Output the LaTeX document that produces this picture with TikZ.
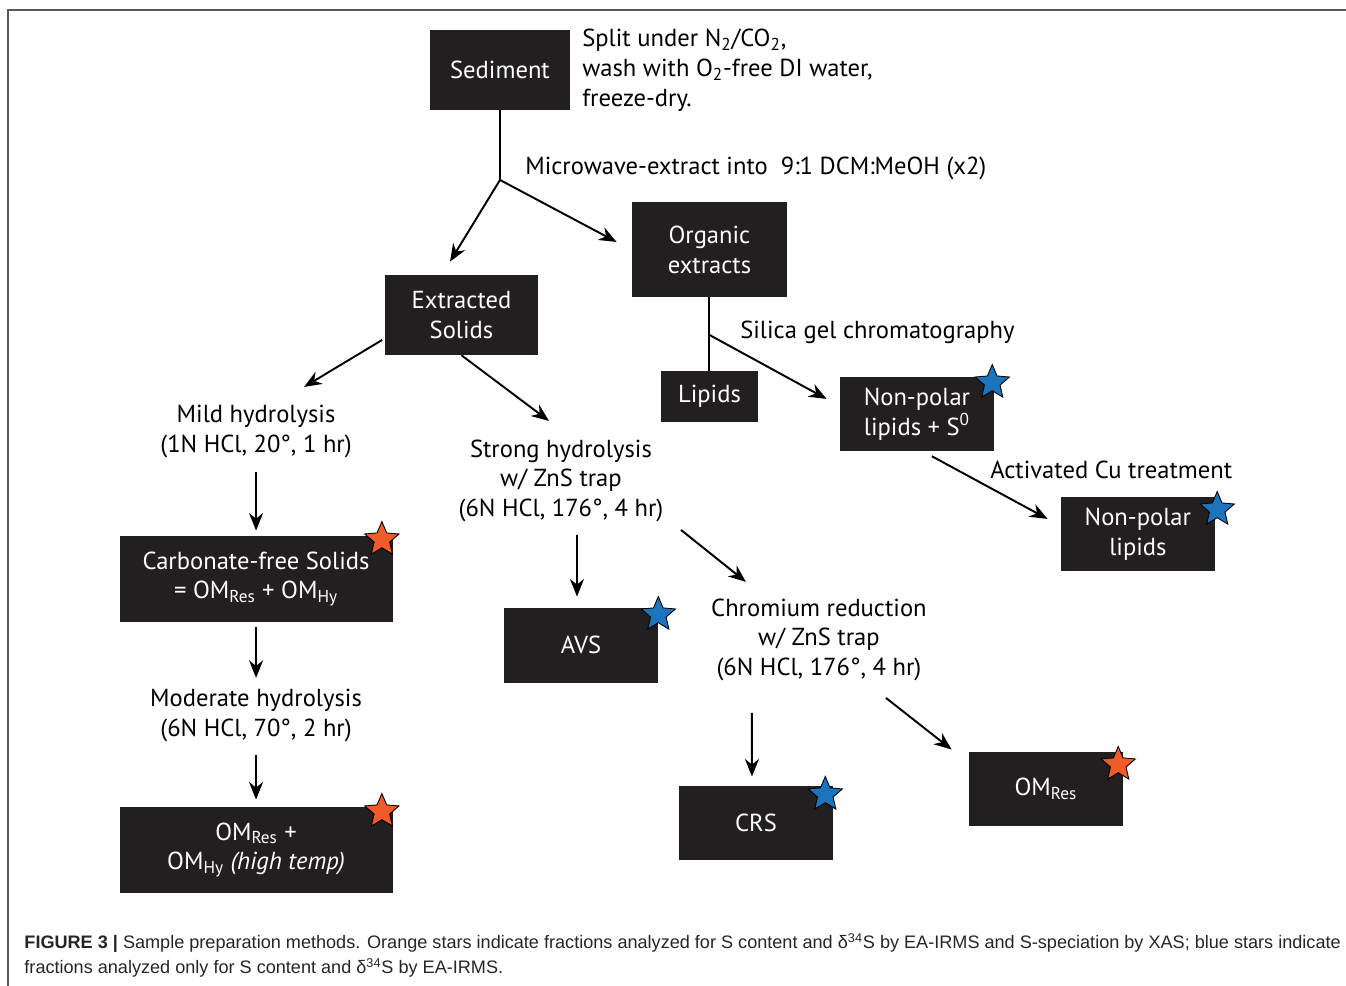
\documentclass[tikz,border=0pt]{standalone}
\usepackage{fontspec}
\setmainfont{PT Sans}
\newfontfamily\capfont{Liberation Sans}
\usepackage{xcolor}
\usetikzlibrary{arrows.meta, positioning, shapes.geometric}
\definecolor{boxblack}{HTML}{231F20}
\definecolor{starorange}{HTML}{F15A29}
\definecolor{starblue}{HTML}{1C75BC}

\begin{document}
\begin{tikzpicture}[
    x=0.02cm, y=-0.02cm,
    on grid,
    box/.style={rectangle, fill=boxblack, text=white, minimum width=3.08cm, minimum height=1.5cm, align=center, inner sep=1pt, font=\fontsize{14}{17}\selectfont},
    lbl/.style={align=center, inner sep=0pt, font=\fontsize{14}{17}\selectfont},
    note/.style={align=left, inner sep=0pt, anchor=west, font=\fontsize{14}{17}\selectfont},
    arr/.style={-{Stealth[length=10pt, width=8pt]}, line width=1.1pt},
    stem/.style={line width=1.1pt},
    ostar/.style={star, star points=5, star point ratio=2.2, minimum size=0.72cm, inner sep=0pt, draw=black, line width=0.5pt, fill=starorange},
    bstar/.style={ostar, fill=starblue}
]
    \useasboundingbox (0,0) rectangle (1346,986);
    \draw[black!65, line width=0.9pt] (8,986) -- (8,10) -- (1346,10);

    \node[box, minimum width=2.8cm, minimum height=1.6cm] (sed) at (500,70) {Sediment};
    \node[right=1.64cm of sed, note] (split) {Split under N\textsubscript{2}/CO\textsubscript{2},\\wash with O\textsubscript{2}-free DI water,\\freeze-dry.};
    \coordinate[below=2.2cm of sed] (j1);
    \node[below right=1.96cm and 0.5cm of sed, note] (micro) {Microwave-extract into\ \ 9:1 DCM:MeOH (x2)};
    \node[box, minimum width=3.1cm, minimum height=1.9cm, below right=3.59cm and 4.19cm of sed] (org) {Organic\\extracts};
    \node[box, minimum height=1.6cm, below left=4.9cm and 0.77cm of sed] (es) {Extracted\\Solids};

    \node[box, minimum width=1.94cm, minimum height=1.02cm, below=2.94cm of org] (lip) {Lipids};
    \coordinate[below=1.71cm of org] (j2);
    \node[below right=1.65cm and 0.61cm of org, note] (silica) {Silica gel chromatography};
    \node[box, minimum height=1.48cm, below right=3.29cm and 4.15cm of org] (nps) {Non-polar\\lipids + S\textsuperscript{0}};
    \node[below right=1.12cm and 1.46cm of nps, note] (act) {Activated Cu treatment};
    \node[box, minimum height=1.48cm, below right=2.4cm and 4.42cm of nps] (np) {Non-polar\\lipids};

    \node[lbl, below left=2.34cm and 4.11cm of es] (mild) {Mild hydrolysis\\(1N HCl, 20°, 1 hr)};
    \node[box, minimum width=5.46cm, minimum height=1.72cm, below=2.94cm of mild] (cfs) {Carbonate-free Solids\\= OM\textsubscript{Res} + OM\textsubscript{Hy}};
    \node[lbl, below=2.74cm of cfs] (mod) {Moderate hydrolysis\\(6N HCl, 70°, 2 hr)};
    \node[box, minimum width=5.46cm, minimum height=1.72cm, below=2.68cm of mod] (omh) {OM\textsubscript{Res} +\\OM\textsubscript{Hy} \textit{(high temp)}};

    \node[lbl, below right=3.32cm and 1.99cm of es] (strong) {Strong hydrolysis\\w/ ZnS trap\\(6N HCl, 176°, 4 hr)};
    \node[box, below right=3.29cm and 0.4cm of strong] (avs) {AVS};
    \node[lbl, below right=3.18cm and 5.16cm of strong] (chrom) {Chromium reduction\\w/ ZnS trap\\(6N HCl, 176°, 4 hr)};
    \node[box, minimum height=1.48cm, below left=3.66cm and 1.26cm of chrom] (crs) {CRS};
    \node[box, minimum height=1.48cm, below right=2.98cm and 4.54cm of chrom] (omr) {OM\textsubscript{Res}};

    \node[ostar] (st1) at ([shift={(-11,4)}]cfs.north east) {};
    \node[ostar] (st2) at ([shift={(-11,5)}]omh.north east) {};
    \node[ostar] (st3) at ([shift={(-5,13)}]omr.north east) {};
    \node[bstar] (st4) at ([shift={(0,7)}]avs.north east) {};
    \node[bstar] (st5) at ([shift={(-8,9)}]crs.north east) {};
    \node[bstar] (st6) at ([shift={(-2,6)}]nps.north east) {};
    \node[bstar] (st7) at ([shift={(2,13)}]np.north east) {};

    \coordinate (t1) at ([shift={(-11.5,-13)}]es.north);
    \coordinate (t2) at ([shift={(-15,-7.5)}]org.west);
    \coordinate (t3) at ([shift={(-13,-15)}]nps.west);
    \coordinate (s4) at ([shift={(-2,25)}]es.west);
    \coordinate (t4) at ([shift={(48,-45)}]mild.center);
    \coordinate (t5) at ([shift={(-12,-60)}]strong.center);
    \coordinate (s6) at ([shift={(15,5)}]nps.south);
    \coordinate (t6) at ([shift={(-13,-15)}]np.west);

    \draw[stem] (sed) -- (j1);
    \draw[arr] (j1) -- (t1);
    \draw[arr] (j1) -- (t2);
    \draw[stem] (org) -- (lip);
    \draw[arr] (j2) -- (t3);
    \draw[arr] (s4) -- (t4);
    \draw[arr] (es.south) -- (t5);
    \draw[arr] (s6) -- (t6);

    \draw[arr] ([shift={(0,40)}]mild.center) -- ([shift={(0,-5)}]cfs.north);
    \draw[arr] ([shift={(0,5)}]cfs.south) -- ([shift={(0,-38)}]mod.center);
    \draw[arr] ([shift={(0,39)}]mod.center) -- ([shift={(0,-7)}]omh.north);
    \draw[arr] ([shift={(16,54)}]strong.center) -- ([shift={(-4,-11)}]avs.north);
    \draw[arr] ([shift={(120,49)}]strong.center) -- ([shift={(-73,-58)}]chrom.center);
    \draw[arr] ([shift={(-67,73)}]chrom.center) -- ([shift={(-4,-9)}]crs.north);
    \draw[arr] ([shift={(67,58)}]chrom.center) -- ([shift={(-17,-2)}]omr.north west);

    \node[below left=2.11cm and 4.64cm of omh, anchor=west, align=left, inner sep=0pt, text=black!85, font=\capfont\fontsize{10.3}{14.2}\selectfont] (cap) {{\bfseries FIGURE 3 |} Sample preparation methods. Orange stars indicate fractions analyzed for S content and δ\textsuperscript{34}S by EA-IRMS and S-speciation by XAS; blue stars indicate\\fractions analyzed only for S content and δ\textsuperscript{34}S by EA-IRMS.};
\end{tikzpicture}
\end{document}
